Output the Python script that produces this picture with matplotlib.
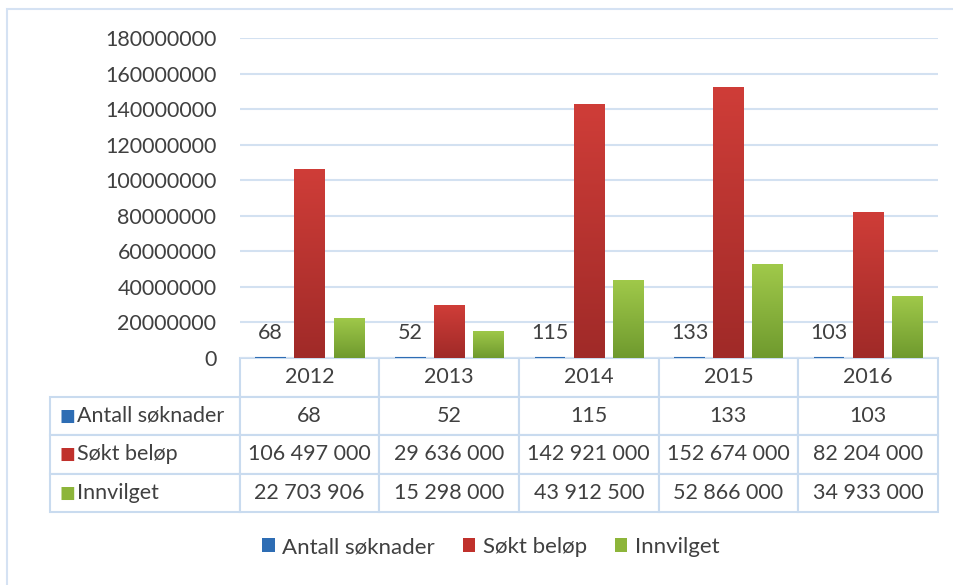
import numpy as np
import matplotlib
matplotlib.use('Agg')
import matplotlib.pyplot as plt
from matplotlib.patches import Rectangle, Patch
from matplotlib.colors import LinearSegmentedColormap

plt.rcParams['font.family'] = ['Lato', 'DejaVu Sans']

# data
years = ['2012', '2013', '2014', '2015', '2016']
series = ['Antall søknader', 'Søkt beløp', 'Innvilget']
antall = [68, 52, 115, 133, 103]
sokt = [106497000, 29636000, 142921000, 152674000, 82204000]
innvilget = [22703906, 15298000, 43912500, 52866000, 34933000]
yticks = [0, 20000000, 40000000, 60000000, 80000000, 100000000,
          120000000, 140000000, 160000000, 180000000]

def fmt(v):
    return '{:,}'.format(v).replace(',', ' ')

values = [antall, sokt, innvilget]
cell_text = [[series[r]] + [fmt(v) for v in values[r]] for r in range(3)]

txt = '#404040'
grid = '#d3e1f1'
# bottom / top colour of each series' gradient
grads = [('#2a5f9e', '#3a7bc8'), ('#a02a28', '#cf3d38'), ('#6f9a2e', '#a0c94a')]
keys = ['#2e6db4', '#c0312c', '#8db53a']

W, H = 954, 585
fig = plt.figure(figsize=(W / 100, H / 100), dpi=100)
ax = fig.add_axes([240 / W, 1 - 358 / H, 698 / W, 320 / H])

# outer chart frame
fig.add_artist(Rectangle((7 / W, -0.1), 1.1, 1 - 9 / H + 0.1, transform=fig.transFigure,
                         fill=False, edgecolor='#d5e2f3', lw=1.5))

x = np.arange(len(years))
bw = 0.22
offs = [-0.28, 0.0, 0.28]

for i, vals in enumerate(values):
    bars = ax.bar(x + offs[i], vals, bw, color=keys[i], zorder=2)
    cmap = LinearSegmentedColormap.from_list('g%d' % i, list(grads[i]))
    for b in bars:
        bx, by, bwid, bh = b.get_x(), b.get_y(), b.get_width(), b.get_height()
        im = ax.imshow(np.linspace(0, 1, 100).reshape(-1, 1), cmap=cmap, origin='lower',
                       extent=[bx, bx + bwid, by, by + bh], aspect='auto', zorder=2.5)
        im.set_clip_path(b)
    if i == 0:
        # tiny counts: Excel still shows a hairline bar
        for b in bars:
            b.set_edgecolor(keys[0])
            b.set_linewidth(1.5)
        ax.bar_label(bars, labels=[str(v) for v in vals], padding=11, fontsize=15.5, color=txt)
ax.set_xlim(-0.5, len(years) - 0.5)
ax.set_ylim(0, 180000000)

ax.set_yticks(yticks)
ax.set_yticklabels([str(v) for v in yticks])
ax.tick_params(axis='y', length=0, pad=17, labelsize=15.5, labelcolor=txt)
ax.set_xticks([])
ax.grid(axis='y', color=grid, lw=1.5, zorder=0)
ax.set_axisbelow(True)
for s in ax.spines.values():
    s.set_visible(False)

# data table below the plot
tbl = ax.table(cellText=cell_text, colLabels=[''] + years,
               colWidths=[190 / 888] + [140 / 888] * 5,
               cellLoc='center', loc='bottom',
               bbox=[-190 / 698, -154 / 320, 888 / 698, 154 / 320])
tbl.auto_set_font_size(False)
tbl.set_fontsize(15.5)
for (r, c), cell in tbl.get_celld().items():
    cell.set_edgecolor('#c9dbef')
    cell.set_linewidth(1.5)
    cell.get_text().set_color(txt)
    if r == 0 and c == 0:
        cell.set_visible(False)
    if r > 0 and c == 0:
        cell.get_text().set_ha('left')
        cell._loc = 'left'
        cell.PAD = 27 / 190

# series keys inside the row label cells
for r in range(3):
    ax.text(-181 / 698, (-154 + (2.5 - r) * 38.5) / 320, '■', transform=ax.transAxes,
            color=keys[r], fontsize=12, va='center', ha='left', family='DejaVu Sans')

handles = [Patch(facecolor=keys[i], edgecolor='none') for i in range(3)]
leg = fig.legend(handles, series, loc='center', bbox_to_anchor=(491 / W, 1 - 547 / H),
                 ncol=3, frameon=False, fontsize=16, handlelength=0.55, handleheight=0.55,
                 handletextpad=0.35, columnspacing=1.25)
for t in leg.get_texts():
    t.set_color(txt)

fig.savefig('out.png', dpi=100)
